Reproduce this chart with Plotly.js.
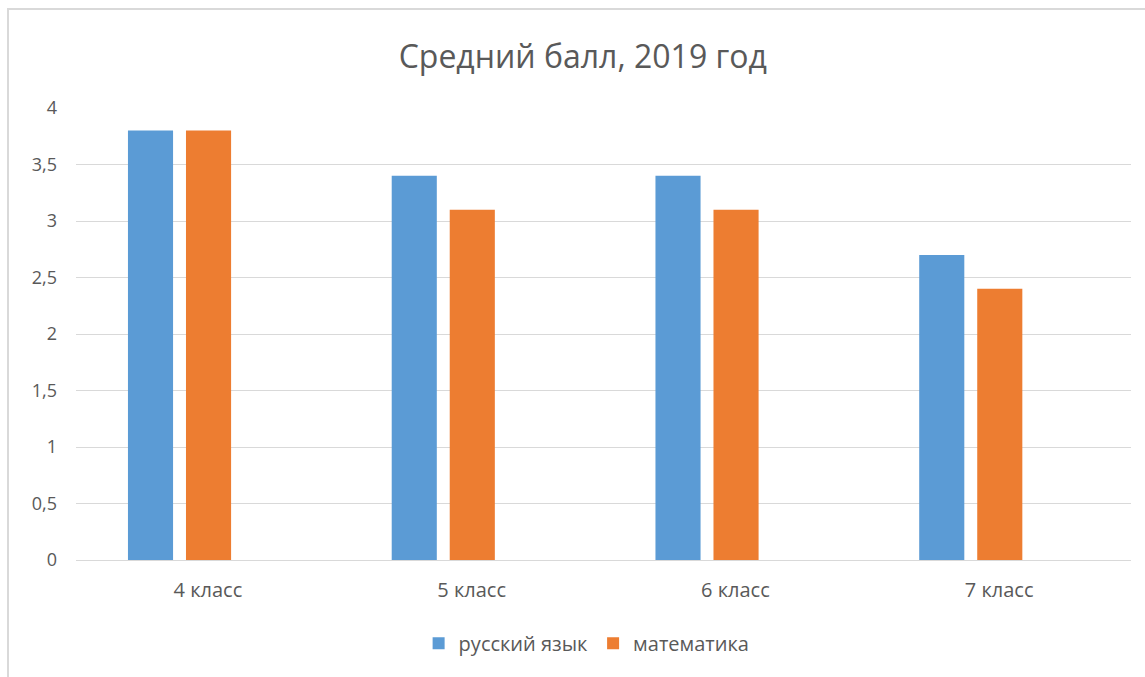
<!DOCTYPE html>
<html>
<head>
<meta charset="utf-8">
<script src="https://cdn.plot.ly/plotly-3.0.1.min.js"></script>
<style>
html,body{margin:0;padding:0;background:#fff;overflow:hidden;}
#frame{position:absolute;left:7px;top:8px;width:1200px;height:700px;border:2px solid #d9d9d9;box-sizing:border-box;}
#chart{position:absolute;left:0;top:0;width:1145px;height:677px;}
</style>
</head>
<body>
<div id="frame"></div>
<div id="chart"></div>
<script>
const categories = ['4 класс', '5 класс', '6 класс', '7 класс'];
const russianName = 'русский язык';
const mathName = 'математика';
const russian = [3.8, 3.4, 3.4, 2.7];
const math = [3.8, 3.1, 3.1, 2.4];
const yTicks = [0, 0.5, 1, 1.5, 2, 2.5, 3, 3.5, 4];

const font = '"Open Sans", sans-serif';
const traces = [
  {type:'bar', name:russianName, x:categories, y:russian, marker:{color:'#5b9bd5'}, width:0.171, offset:-0.303, hoverinfo:'y'},
  {type:'bar', name:mathName, x:categories, y:math, marker:{color:'#ed7d31'}, width:0.171, offset:-0.083, hoverinfo:'y'}
];
const layout = {
  width:1145, height:677,
  margin:{l:76, r:14, t:108, b:117},
  paper_bgcolor:'rgba(0,0,0,0)', plot_bgcolor:'rgba(0,0,0,0)',
  separators:', ',
  title:{text:'Средний балл, 2019 год', x:0.509, xanchor:'center', y:0.916, yanchor:'middle', font:{family:font, size:32, color:'#595959'}},
  barmode:'group',
  xaxis:{type:'category', showgrid:false, zeroline:false, showline:false, ticks:'', tickfont:{family:font, size:20, color:'#595959'}, ticklabelstandoff:16},
  yaxis:{range:[0,4], tickvals:yTicks, tickformat:'.1~f', showgrid:true, gridcolor:'#d9d9d9', gridwidth:1, zeroline:true, zerolinecolor:'#d9d9d9', zerolinewidth:1, showline:false, ticks:'', tickfont:{family:font, size:18, color:'#595959'}, ticklabelstandoff:18, fixedrange:true},
  showlegend:true,
  legend:{orientation:'h', x:0.484, xanchor:'center', y:-0.184, yanchor:'middle', font:{family:font, size:20, color:'#595959'}, itemwidth:30, tracegroupgap:0},
  bargap:0.34
};
Plotly.newPlot('chart', traces, layout, {displayModeBar:false, staticPlot:true});
</script>
</body>
</html>
